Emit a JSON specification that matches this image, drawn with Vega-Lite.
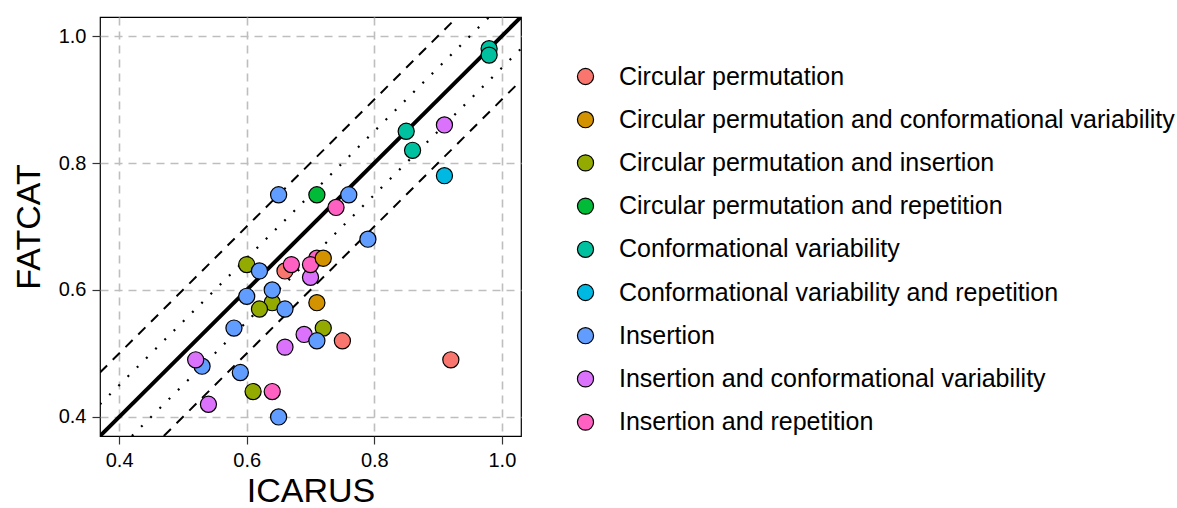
{
  "$schema": "https://vega.github.io/schema/vega-lite/v6.json",
  "width": 421,
  "height": 419,
  "autosize": {"type": "none"},
  "padding": {"left": 100, "top": 17, "right": 656, "bottom": 72},
  "background": "white",
  "config": {
    "font": "Liberation Sans",
    "view": {"stroke": "black", "strokeWidth": 1.2},
    "axis": {
      "grid": true,
      "gridColor": "#BEBEBE",
      "gridDash": [8, 6],
      "gridWidth": 1.6,
      "domain": false,
      "tickColor": "#333333",
      "tickSize": 8,
      "tickWidth": 1.2,
      "labelFontSize": 20,
      "labelColor": "black",
      "labelPadding": 6,
      "titleFontSize": 34,
      "titleFontWeight": "normal",
      "titleColor": "black"
    },
    "legend": {
      "orient": "none",
      "legendX": 473,
      "legendY": 47,
      "padding": 0,
      "labelFontSize": 25,
      "labelColor": "black",
      "labelOffset": 21,
      "rowPadding": 17.2,
      "symbolSize": 260,
      "symbolStrokeColor": "black",
      "symbolStrokeWidth": 1.2,
      "symbolOpacity": 1,
      "symbolType": "circle",
      "labelLimit": 0
    }
  },
  "layer": [
    {
      "data": {"values": [
        {"offset": "+0.1", "x": 0.37, "y": 0.47},
        {"offset": "+0.1", "x": 0.93, "y": 1.03},
        {"offset": "-0.1", "x": 0.47, "y": 0.37},
        {"offset": "-0.1", "x": 1.03, "y": 0.93}
      ]},
      "mark": {"type": "line", "color": "black", "strokeWidth": 2, "strokeDash": [10, 8], "clip": true},
      "encoding": {
        "x": {"field": "x", "type": "quantitative"},
        "y": {"field": "y", "type": "quantitative"},
        "detail": {"field": "offset"}
      }
    },
    {
      "data": {"values": [
        {"offset": "+0.05", "x": 0.37, "y": 0.42},
        {"offset": "+0.05", "x": 0.98, "y": 1.03},
        {"offset": "-0.05", "x": 0.42, "y": 0.37},
        {"offset": "-0.05", "x": 1.03, "y": 0.98}
      ]},
      "mark": {"type": "line", "color": "black", "strokeWidth": 2.2, "strokeDash": [2, 11], "clip": true},
      "encoding": {
        "x": {"field": "x", "type": "quantitative"},
        "y": {"field": "y", "type": "quantitative"},
        "detail": {"field": "offset"}
      }
    },
    {
      "data": {"values": [
        {"x": 0.37, "y": 0.37},
        {"x": 1.03, "y": 1.03}
      ]},
      "mark": {"type": "line", "color": "black", "strokeWidth": 4, "clip": true},
      "encoding": {
        "x": {"field": "x", "type": "quantitative"},
        "y": {"field": "y", "type": "quantitative"}
      }
    },
    {
      "data": {"values": [
        {"ICARUS": 0.98, "FATCAT": 0.98, "type": "Conformational variability"},
        {"ICARUS": 0.98, "FATCAT": 0.97, "type": "Conformational variability"},
        {"ICARUS": 0.85, "FATCAT": 0.85, "type": "Conformational variability"},
        {"ICARUS": 0.86, "FATCAT": 0.82, "type": "Conformational variability"},
        {"ICARUS": 0.91, "FATCAT": 0.86, "type": "Insertion and conformational variability"},
        {"ICARUS": 0.91, "FATCAT": 0.78, "type": "Conformational variability and repetition"},
        {"ICARUS": 0.65, "FATCAT": 0.75, "type": "Insertion"},
        {"ICARUS": 0.71, "FATCAT": 0.75, "type": "Circular permutation and repetition"},
        {"ICARUS": 0.74, "FATCAT": 0.73, "type": "Insertion and repetition"},
        {"ICARUS": 0.76, "FATCAT": 0.75, "type": "Insertion"},
        {"ICARUS": 0.79, "FATCAT": 0.68, "type": "Insertion"},
        {"ICARUS": 0.60, "FATCAT": 0.64, "type": "Circular permutation and insertion"},
        {"ICARUS": 0.62, "FATCAT": 0.63, "type": "Insertion"},
        {"ICARUS": 0.66, "FATCAT": 0.63, "type": "Circular permutation"},
        {"ICARUS": 0.67, "FATCAT": 0.64, "type": "Insertion and repetition"},
        {"ICARUS": 0.70, "FATCAT": 0.62, "type": "Insertion and conformational variability"},
        {"ICARUS": 0.71, "FATCAT": 0.65, "type": "Insertion and repetition"},
        {"ICARUS": 0.70, "FATCAT": 0.64, "type": "Insertion and repetition"},
        {"ICARUS": 0.72, "FATCAT": 0.65, "type": "Circular permutation and conformational variability"},
        {"ICARUS": 0.64, "FATCAT": 0.58, "type": "Circular permutation and insertion"},
        {"ICARUS": 0.62, "FATCAT": 0.57, "type": "Circular permutation and insertion"},
        {"ICARUS": 0.64, "FATCAT": 0.60, "type": "Insertion"},
        {"ICARUS": 0.60, "FATCAT": 0.59, "type": "Insertion"},
        {"ICARUS": 0.66, "FATCAT": 0.57, "type": "Insertion"},
        {"ICARUS": 0.71, "FATCAT": 0.58, "type": "Circular permutation and conformational variability"},
        {"ICARUS": 0.58, "FATCAT": 0.54, "type": "Insertion"},
        {"ICARUS": 0.72, "FATCAT": 0.54, "type": "Circular permutation and insertion"},
        {"ICARUS": 0.69, "FATCAT": 0.53, "type": "Insertion and conformational variability"},
        {"ICARUS": 0.71, "FATCAT": 0.52, "type": "Insertion"},
        {"ICARUS": 0.75, "FATCAT": 0.52, "type": "Circular permutation"},
        {"ICARUS": 0.66, "FATCAT": 0.51, "type": "Insertion and conformational variability"},
        {"ICARUS": 0.92, "FATCAT": 0.49, "type": "Circular permutation"},
        {"ICARUS": 0.53, "FATCAT": 0.48, "type": "Insertion"},
        {"ICARUS": 0.52, "FATCAT": 0.49, "type": "Insertion and conformational variability"},
        {"ICARUS": 0.59, "FATCAT": 0.47, "type": "Insertion"},
        {"ICARUS": 0.61, "FATCAT": 0.44, "type": "Circular permutation and insertion"},
        {"ICARUS": 0.64, "FATCAT": 0.44, "type": "Insertion and repetition"},
        {"ICARUS": 0.54, "FATCAT": 0.42, "type": "Insertion and conformational variability"},
        {"ICARUS": 0.65, "FATCAT": 0.40, "type": "Insertion"}
      ]},
      "mark": {"type": "point", "filled": true, "shape": "circle", "size": 260, "stroke": "black", "strokeWidth": 1.2, "opacity": 1},
      "encoding": {
        "x": {
          "field": "ICARUS", "type": "quantitative",
          "scale": {"domain": [0.37, 1.03], "nice": false, "zero": false},
          "axis": {"values": [0.4, 0.6, 0.8, 1.0], "format": ".1f", "title": "ICARUS", "titlePadding": 4}
        },
        "y": {
          "field": "FATCAT", "type": "quantitative",
          "scale": {"domain": [0.37, 1.03], "nice": false, "zero": false},
          "axis": {"values": [0.4, 0.6, 0.8, 1.0], "format": ".1f", "title": "FATCAT", "titlePadding": 12}
        },
        "color": {
          "field": "type", "type": "nominal",
          "scale": {
            "domain": [
              "Circular permutation",
              "Circular permutation and conformational variability",
              "Circular permutation and insertion",
              "Circular permutation and repetition",
              "Conformational variability",
              "Conformational variability and repetition",
              "Insertion",
              "Insertion and conformational variability",
              "Insertion and repetition"
            ],
            "range": ["#F8766D", "#D39200", "#93AA00", "#00BA38", "#00C19F", "#00B9E3", "#619CFF", "#DB72FB", "#FF61C3"]
          },
          "legend": {"title": null}
        }
      }
    }
  ]
}
